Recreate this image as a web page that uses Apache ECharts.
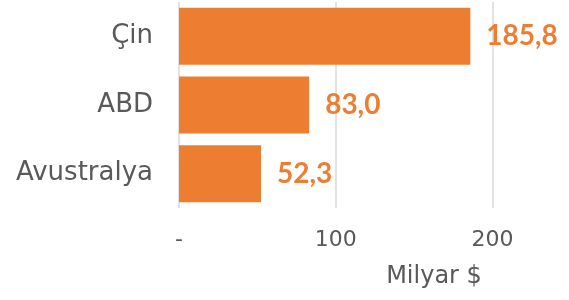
<!DOCTYPE html>
<html>
<head>
<meta charset="utf-8">
<script src="https://cdn.jsdelivr.net/npm/echarts@6/dist/echarts.min.js"></script>
<style>
html,body{margin:0;padding:0;background:#fff;}
#chart{width:569px;height:300px;}
</style>
</head>
<body>
<div id="chart"></div>
<script>
var countries = ['Avustralya', 'ABD', 'Çin'];
var values = [52.3, 83.0, 185.8];
var tickStep = 100;
var axisMax = 250;
var unitName = 'Milyar $';

var myChart = echarts.init(document.getElementById('chart'));

function fmtNum(v) {
    return v.toFixed(1).replace('.', ',');
}

var option = {
    animation: false,
    grid: {
        left: 179,
        top: 2,
        width: 392,
        height: 206,
        outerBoundsMode: 'none'
    },
    xAxis: {
        type: 'value',
        min: 0,
        max: axisMax,
        interval: tickStep,
        axisLine: { show: false },
        axisTick: { show: false },
        splitLine: { show: true, lineStyle: { color: '#d9d9d9', width: 1.5 } },
        axisLabel: {
            margin: 21,
            color: '#595959',
            fontFamily: 'DejaVu Sans',
            fontSize: 22,
            showMaxLabel: false,
            formatter: function (v) {
                return v === 0 ? '-' : String(v);
            }
        },
        name: unitName,
        nameLocation: 'middle',
        nameGap: 57,
        nameTextStyle: {
            color: '#595959',
            fontFamily: 'DejaVu Sans',
            fontSize: 24,
            padding: [0, 0, 0, 118]
        }
    },
    yAxis: {
        type: 'category',
        data: countries,
        axisLine: { show: false },
        axisTick: { show: false },
        axisLabel: {
            margin: 26,
            color: '#595959',
            fontFamily: 'DejaVu Sans',
            fontSize: 26,
            padding: [4, 0, 0, 0]
        }
    },
    series: [{
        type: 'bar',
        data: values,
        barCategoryGap: '17%',
        itemStyle: { color: '#ED7D31' },
        label: {
            show: true,
            position: 'right',
            distance: 16,
            color: '#ED7D31',
            fontFamily: 'Lato',
            fontWeight: 'bold',
            fontSize: 28,
            padding: [6, 0, 0, 0],
            formatter: function (p) { return fmtNum(p.value); }
        }
    }]
};
myChart.setOption(option);
</script>
</body>
</html>
